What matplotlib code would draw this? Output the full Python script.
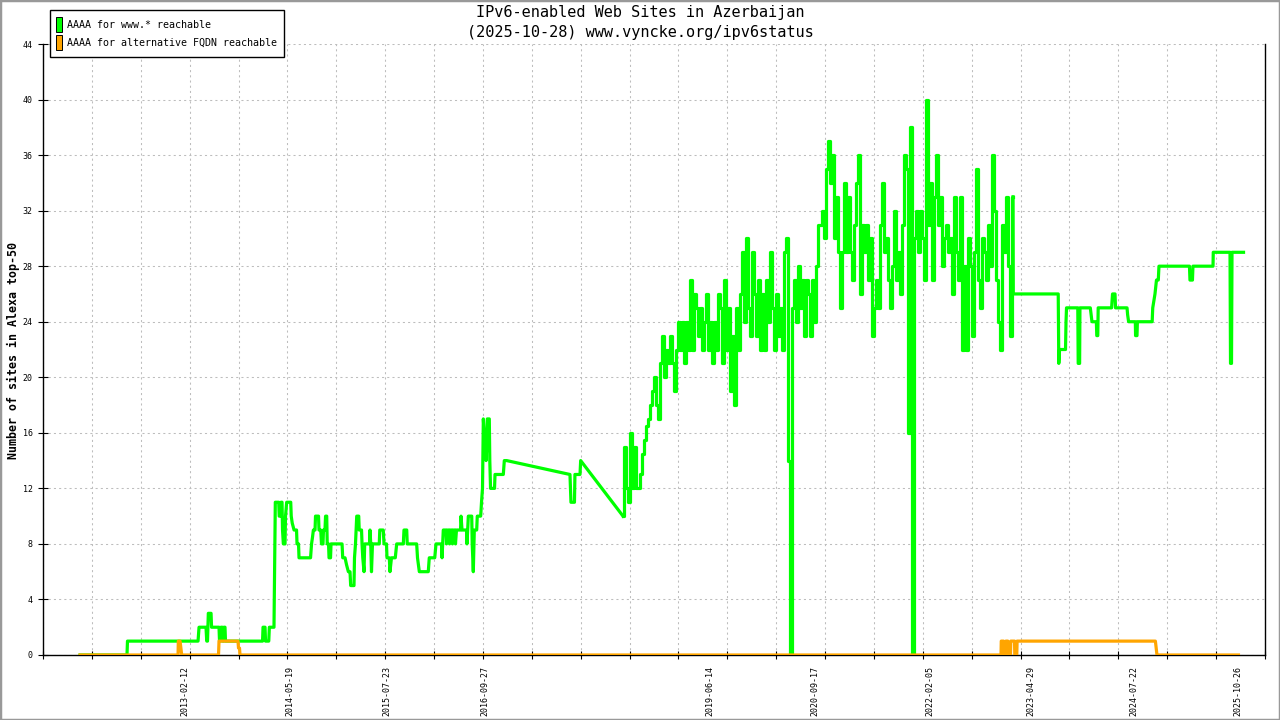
import datetime as dt
import numpy as np
import matplotlib
matplotlib.use("Agg")
import matplotlib.pyplot as plt
from matplotlib.patches import Rectangle

# ---------------- text ----------------
title_line1 = "IPv6-enabled Web Sites in Azerbaijan"
title_line2 = "(2025-10-28) www.vyncke.org/ipv6status"
y_label = "Number of sites in Alexa top-50"
legend_labels = ["AAAA for www.* reachable", "AAAA for alternative FQDN reachable"]

x_tick_dates = ["2013-02-12", "2014-05-19", "2015-07-23", "2016-09-27", "2019-06-14",
                "2020-09-17", "2022-02-05", "2023-04-29", "2024-07-22", "2025-10-26"]
y_ticks = [0, 4, 8, 12, 16, 20, 24, 28, 32, 36, 40, 44]
x_range = [2011.402, 2026.141]          # decimal years
y_range = [0, 44]

# ---------------- data (time in decimal years) ----------------
# "AAAA for www.* reachable" : first part (2011 - 2018)
www_head_t = [2011.849, 2012.415, 2012.421, 2013.272, 2013.284, 2013.368, 2013.377, 2013.386, 2013.396, 2013.429,
              2013.435, 2013.525, 2013.531, 2013.543, 2013.549, 2013.565, 2013.570, 2013.579, 2013.585, 2013.597,
              2013.603, 2014.050, 2014.056, 2014.080, 2014.086, 2014.125, 2014.132, 2014.188, 2014.196, 2014.204,
              2014.245, 2014.251, 2014.267, 2014.273, 2014.285, 2014.291, 2014.301, 2014.321, 2014.327, 2014.341,
              2014.390, 2014.396, 2014.408, 2014.430, 2014.460, 2014.466, 2014.484, 2014.490, 2014.629, 2014.641,
              2014.653, 2014.663, 2014.683, 2014.689, 2014.725, 2014.731, 2014.752, 2014.761, 2014.779, 2014.785,
              2014.803, 2014.810, 2014.824, 2014.830, 2014.846, 2014.852, 2014.870, 2014.876, 2015.009, 2015.017,
              2015.045, 2015.063, 2015.085, 2015.105, 2015.113, 2015.153, 2015.159, 2015.171, 2015.186, 2015.210,
              2015.216, 2015.244, 2015.250, 2015.259, 2015.274, 2015.282, 2015.340, 2015.346, 2015.355, 2015.364,
              2015.376, 2015.458, 2015.464, 2015.506, 2015.515, 2015.545, 2015.551, 2015.579, 2015.587, 2015.605,
              2015.651, 2015.668, 2015.748, 2015.756, 2015.789, 2015.795, 2015.909, 2015.919, 2015.941, 2016.049,
              2016.061, 2016.127, 2016.142, 2016.209, 2016.215, 2016.223, 2016.230, 2016.263, 2016.269, 2016.281,
              2016.299, 2016.305, 2016.317, 2016.335, 2016.341, 2016.353, 2016.371, 2016.377, 2016.389, 2016.438,
              2016.444, 2016.456, 2016.510, 2016.516, 2016.532, 2016.573, 2016.579, 2016.592, 2016.604, 2016.633,
              2016.640, 2016.681, 2016.691, 2016.703, 2016.713, 2016.734, 2016.746, 2016.754, 2016.761, 2016.785,
              2016.791, 2016.800, 2016.848, 2016.854, 2016.954, 2016.966, 2016.995, 2017.758, 2017.770, 2017.812,
              2017.818, 2017.879, 2017.887]
www_head_v = [0, 0, 1, 1, 2, 2, 1, 1, 3, 3,
              2, 2, 1, 1, 2, 2, 1, 1, 2, 2,
              1, 1, 2, 2, 1, 1, 2, 2, 6.5, 11,
              11, 10, 10, 11, 11, 9, 8, 8, 10, 11,
              11, 10, 9.5, 9, 9, 8, 8, 7, 7, 8,
              8.5, 9, 9, 10, 10, 9, 9, 8, 8, 9,
              9, 10, 10, 8, 8, 7, 7, 8, 8, 7,
              7, 6.5, 6, 6, 5, 5, 7, 8, 10, 10,
              9, 9, 8, 7, 6, 8, 8, 9, 8, 6,
              8, 8, 9, 9, 8, 8, 7, 7, 6, 7,
              7, 8, 8, 9, 9, 8, 8, 7, 6, 6,
              7, 7, 8, 8, 7, 8, 9, 9, 8, 9,
              9, 8, 9, 9, 8, 9, 9, 8, 9, 9,
              10, 9, 9, 8, 10, 10, 8, 6, 9, 9,
              10, 10, 11, 12, 17, 15, 14, 15, 17, 17,
              14, 12, 12, 13, 13, 14, 14, 13, 11, 11,
              13, 13, 14]

# dense, noisy part (read about every 9 days) between these two dates
www_dense_span = [2018.398, 2023.102]
www_dense_v = [10, 15, 12, 11, 16, 12, 15, 12, 12, 13,
               14.5, 15.5, 16.5, 17, 18, 19, 20, 18, 17, 21,
               23, 20, 22, 21, 23, 21, 19, 22, 24, 22,
               24, 21, 24, 22, 27, 22, 26, 25, 23, 25,
               22, 24, 26, 22, 24, 21, 24, 22, 26, 25,
               21, 27, 22, 25, 19, 23, 18, 25, 22, 26,
               29, 24, 30, 25, 23, 29, 26, 23, 27, 22,
               26, 22, 27, 24, 29, 25, 22, 26, 23, 25,
               22, 29, 30, 14, 0, 25, 27, 24, 28, 25,
               27, 23, 27, 26, 23, 27, 24, 28, 31, 31,
               32, 30, 35, 37, 34, 36, 30, 33, 29, 25,
               29, 34, 29, 33, 29, 27, 31, 34, 36, 26,
               31, 29, 31, 27, 30, 23, 25, 27, 25, 31,
               34, 29, 30, 27, 25, 28, 32, 27, 29, 26,
               31, 36, 35, 16, 38, 0, 30, 32, 29, 32,
               30, 27, 40, 31, 34, 27, 33, 36, 31, 33,
               28, 30, 31, 29, 30, 26, 33, 29, 27, 33,
               22, 28, 22, 30, 28, 23, 29, 35, 27, 25,
               30, 29, 27, 31, 28, 36, 32, 27, 24, 22,
               31, 29, 33, 28, 23, 33]

# last part (2023 - 2025)
www_tail_t = [2023.105, 2023.647, 2023.654, 2023.663, 2023.735, 2023.741, 2023.747, 2023.883, 2023.888, 2023.905,
              2023.909, 2024.034, 2024.054, 2024.107, 2024.112, 2024.124, 2024.129, 2024.291, 2024.302, 2024.332,
              2024.338, 2024.477, 2024.484, 2024.496, 2024.577, 2024.580, 2024.597, 2024.602, 2024.780, 2024.787,
              2024.814, 2024.832, 2024.854, 2024.862, 2025.230, 2025.236, 2025.266, 2025.272, 2025.514, 2025.517,
              2025.719, 2025.725, 2025.737, 2025.743, 2025.882]
www_tail_v = [26, 26, 21, 22, 22, 24, 25, 25, 21, 21,
              25, 25, 24, 24, 23, 23, 25, 25, 26, 26,
              25, 25, 24.5, 24, 24, 23, 23, 24, 24, 25,
              26, 27, 27, 28, 28, 27, 27, 28, 28, 29,
              29, 21, 21, 29, 29]

# "AAAA for alternative FQDN reachable"
alt_t = [2011.849, 2013.031, 2013.034, 2013.055, 2013.075, 2013.519, 2013.525, 2013.754, 2013.760, 2013.772,
         2013.778, 2022.957, 2022.960, 2022.987, 2022.991, 2023.012, 2023.016, 2023.039, 2023.042, 2023.071,
         2023.075, 2023.120, 2023.123, 2023.147, 2023.151, 2024.819, 2024.838, 2025.821]
alt_v = [0, 0, 1, 1, 0, 0, 1, 1, 0.5, 0.5,
         0, 0, 1, 1, 0, 0, 1, 1, 0, 0,
         1, 1, 0, 0, 1, 1, 0, 0]

# ---------------- helpers ----------------
def decimal_year(s):
    d = dt.date.fromisoformat(s)
    start = dt.date(d.year, 1, 1)
    n = (dt.date(d.year + 1, 1, 1) - start).days
    return d.year + (d - start).days / n

dense_t = np.linspace(www_dense_span[0], www_dense_span[1], len(www_dense_v))

# ---------------- figure ----------------
MONO = "DejaVu Sans Mono"
GREEN = "#00ff00"
ORANGE = "#ffa500"
W, H = 1280, 720

def fx(px):
    return px / W

def fy(py):
    return 1 - py / H

fig = plt.figure(figsize=(12.8, 7.2), dpi=100)
fig.patch.set_facecolor("white")
fig.add_artist(Rectangle((0, 0), 1, 1, transform=fig.transFigure, fill=False,
                         edgecolor="#999999", linewidth=2.5))

ax = fig.add_axes([43 / W, 65 / H, 1222 / W, 611 / H])
ax.set_xlim(*x_range)
ax.set_ylim(*y_range)

lw = 2.3
# sparse early part (joined to the first dense reading -> straight gap line)
ax.plot(list(www_head_t) + [dense_t[0]], list(www_head_v) + [www_dense_v[0]],
        color=GREEN, linewidth=lw, zorder=3, label=legend_labels[0])
# dense daily-like part drawn as steps
ax.plot(dense_t, www_dense_v, color=GREEN, linewidth=lw, drawstyle="steps-mid", zorder=3)
# last part
ax.plot([dense_t[-1]] + list(www_tail_t), [www_dense_v[-1]] + list(www_tail_v),
        color=GREEN, linewidth=lw, zorder=3)
ax.plot(alt_t, alt_v, color=ORANGE, linewidth=lw, zorder=4, label=legend_labels[1])

# spines
for s in ["left", "bottom", "right"]:
    ax.spines[s].set_color("black")
    ax.spines[s].set_linewidth(1.0)
ax.spines["top"].set_visible(False)

# x ticks: uniform unlabeled major ticks + labeled date positions
major_x = np.linspace(x_range[0], x_range[1], 26)
ax.set_xticks(major_x)
ax.set_xticklabels([])
ax.set_xticks([decimal_year(d) for d in x_tick_dates], minor=True)
ax.set_xticklabels(x_tick_dates, minor=True, rotation=90, fontsize=6, family=MONO)
ax.tick_params(axis="x", which="major", direction="inout", length=6, width=0.8, color="black")
ax.tick_params(axis="x", which="minor", length=0, pad=8)

ax.set_yticks(y_ticks)
ax.set_yticklabels([str(v) for v in y_ticks], fontsize=6, family=MONO)
ax.tick_params(axis="y", which="major", direction="inout", length=7, width=0.8, pad=4)
ax.tick_params(axis="y", which="both", right=False)

ax.grid(True, which="major", color="#bdbdbd", linewidth=0.75, linestyle=(0, (2, 3)), zorder=0)
ax.set_axisbelow(True)

fig.text(fx(13), fy(350), y_label, rotation=90, ha="center", va="center",
         fontsize=8.4, fontweight="bold", family=MONO)

fig.text(0.5, fy(13), title_line1, ha="center", va="center", fontsize=11, family=MONO)
fig.text(0.5, fy(32), title_line2, ha="center", va="center", fontsize=11, family=MONO)

# legend box (drawn in figure pixels)
fig.add_artist(Rectangle((fx(50), fy(57)), 234 / W, 47 / H, transform=fig.transFigure,
                         facecolor="white", edgecolor="black", linewidth=1.0, zorder=10))
for i, (lab, col) in enumerate(zip(legend_labels, [GREEN, ORANGE])):
    top = 17 + 18 * i
    fig.add_artist(Rectangle((fx(56), fy(top + 15)), 6 / W, 15 / H, transform=fig.transFigure,
                             facecolor=col, edgecolor="black", linewidth=0.7, zorder=11))
    fig.text(fx(67), fy(top + 8), lab, ha="left", va="center", fontsize=7.2,
             family=MONO, zorder=12)

fig.savefig("out.png", dpi=100, facecolor="white")
